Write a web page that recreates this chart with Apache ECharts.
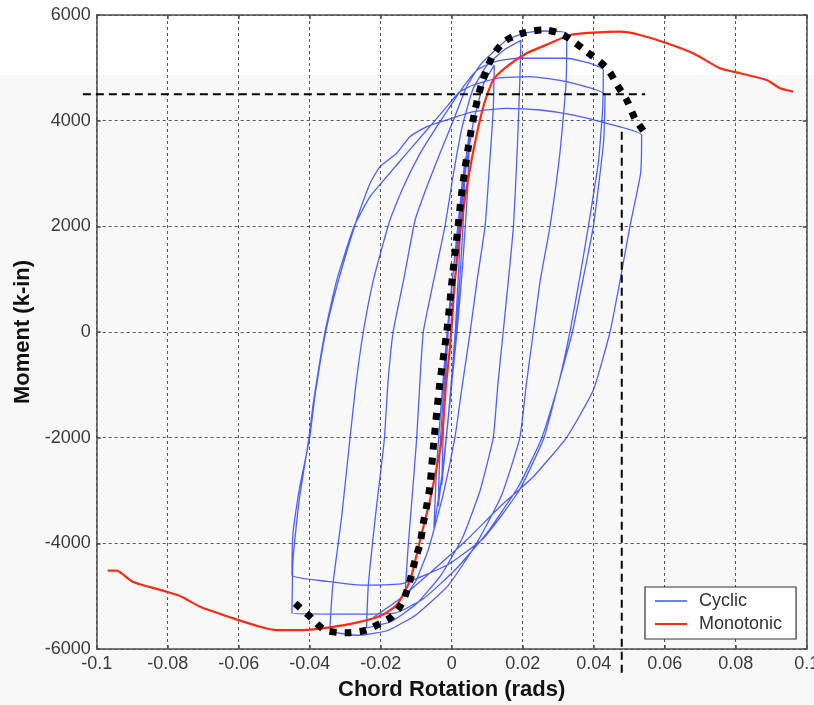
<!DOCTYPE html>
<html>
<head>
<meta charset="utf-8">
<script src="https://cdn.jsdelivr.net/npm/echarts@6/dist/echarts.min.js"></script>
<style>
html,body{margin:0;padding:0;background:#fff;}
#chart{width:814px;height:705px;}
</style>
</head>
<body>
<div id="chart"></div>
<script>
// ---- axis ticks ----
const xTickLabels = ['-0.1','-0.08','-0.06','-0.04','-0.02','0','0.02','0.04','0.06','0.08','0.1'];
const yTickLabels = ['-6000','-4000','-2000','0','2000','4000','6000'];

// ---- Monotonic test (red) [rotation, moment] ----
const monotonic = [
[-0.0969,-4518],[-0.0944,-4518],[-0.0899,-4726],[-0.0803,-4916],[-0.0761,-5010],[-0.0709,-5200],
[-0.0615,-5420],[-0.054,-5578],[-0.0493,-5641],[-0.042,-5641],[-0.0343,-5590],[-0.0268,-5502],
[-0.0202,-5376],[-0.0155,-5168],[-0.0117,-4694],[-0.0089,-3937],[-0.0061,-3180],[-0.0042,-2550],
[-0.0028,-2044],[-0.0016,-1000],[-0.0005,-300],[0.0005,700],[0.0028,2100],[0.0056,3256],
[0.0089,4265],[0.0117,4770],[0.0155,5022],[0.0211,5275],[0.0277,5465],[0.0333,5622],
[0.0399,5666],[0.0474,5684],[0.053,5622],[0.0606,5465],[0.068,5275],[0.0756,4991],
[0.0793,4927],[0.0887,4770],[0.0925,4613],[0.0962,4549]
];

// ---- Cyclic test (blue) [rotation, moment] ----
const cyclic = [
[0,0],[0.001,1000],[0.002,2000],[0.003,2900],
[0.0022,1500],[0.001,0],[-0.0008,-1500],[-0.0028,-2900],
[-0.0022,-1500],[-0.001,0],[0.0008,1400],[0.0025,2500],[0.0038,3300],
[0.0032,2000],[0.0018,500],[0,-1000],[-0.002,-2300],[-0.0038,-3300],
[-0.0033,-2200],[-0.002,-800],[-0.0006,500],[0.0015,1800],[0.0035,3000],[0.005,3800],
[0.0045,2700],[0.003,1200],[0.0015,0],[-0.0005,-1300],[-0.0025,-2600],[-0.005,-3700],
[-0.0042,-2500],[-0.003,-1400],[-0.0013,0],[0.0005,1200],[0.0023,2000],[0.004,3100],[0.0062,4000],[0.009,4700],[0.012,5050],
[0.0117,4200],[0.0106,3100],[0.0094,2000],[0.0072,1000],[0.0052,0],[0.003,-1000],[0.0009,-2000],[-0.0025,-3100],[-0.0065,-4100],[-0.010,-4700],[-0.0132,-5010],
[-0.0122,-4000],[-0.011,-3000],[-0.0099,-2044],[-0.009,-1000],[-0.008,0],[-0.005,1000],[-0.0019,2000],[0.0005,3000],[0.003,3900],[0.006,4600],[0.010,5050],[0.015,5350],[0.0195,5520],
[0.0192,4800],[0.0185,3500],[0.0174,2000],[0.016,1000],[0.0145,0],[0.013,-1000],[0.0117,-2000],[0.008,-3000],[0.003,-3900],[-0.003,-4600],[-0.010,-5150],[-0.017,-5480],[-0.024,-5600],
[-0.0235,-4800],[-0.0215,-3500],[-0.019,-2044],[-0.018,-1000],[-0.0165,0],[-0.0135,1000],[-0.0103,2120],[-0.007,2750],[-0.0033,3382],[0.0005,4013],[0.0042,4643],[0.008,5050],[0.0125,5350],[0.0155,5527],[0.0202,5654],[0.0249,5697],[0.0295,5690],[0.0324,5654],
[0.0322,4700],[0.0305,3400],[0.0277,2000],[0.025,1000],[0.023,0],[0.021,-1000],[0.0192,-2000],[0.014,-3100],[0.007,-4000],[-0.001,-4800],[-0.01,-5350],[-0.018,-5650],[-0.026,-5740],[-0.0343,-5640],
[-0.0335,-4800],[-0.031,-3500],[-0.0287,-2044],[-0.027,-1000],[-0.0249,0],[-0.022,1000],[-0.0174,2120],[-0.0136,2750],[-0.0089,3382],[-0.0042,3886],[-0.0005,4265],[0.0033,4643],[0.007,4950],[0.0108,5086],[0.0155,5160],[0.0202,5181],[0.0324,5181],[0.039,5086],[0.0427,4959],
[0.0425,4200],[0.0413,3200],[0.0385,2000],[0.036,1000],[0.0333,0],[0.030,-1000],[0.0254,-2000],[0.019,-2900],[0.010,-3800],[0.001,-4500],[-0.008,-5050],[-0.016,-5320],[-0.03,-5340],[-0.045,-5325],
[-0.0447,-4300],[-0.043,-3200],[-0.0402,-2000],[-0.039,-1350],[-0.0357,0],[-0.0323,1000],[-0.0275,2000],[-0.023,2561],[-0.0183,2940],[-0.0127,3382],[-0.007,3823],[-0.0014,4265],[0.0023,4550],[0.0061,4675],[0.0127,4802],[0.022,4833],[0.0324,4738],[0.0432,4486],
[0.0428,3600],[0.0399,2000],[0.037,1000],[0.034,0],[0.030,-1000],[0.026,-2000],[0.019,-3000],[0.009,-3900],[-0.001,-4400],[-0.0136,-4757],[-0.025,-4790],[-0.035,-4720],[-0.045,-4600],
[-0.0447,-3800],[-0.043,-3000],[-0.040,-2000],[-0.0385,-1200],[-0.0355,0],[-0.0318,1000],[-0.0268,2120],[-0.023,2815],[-0.0202,3129],[-0.0155,3382],[-0.0118,3697],[-0.007,3886],[-0.0014,4013],[0.0061,4170],[0.0155,4234],[0.0249,4202],[0.0343,4107],[0.0437,3950],[0.0535,3729],
[0.0532,3000],[0.0502,2000],[0.0475,1000],[0.0446,0],[0.0399,-1098],[0.0324,-1993],[0.023,-2739],[0.0136,-3307],[0.0042,-3937],[-0.0052,-4505],[-0.0146,-5050],[-0.022,-5400]
];

// ---- hand-drawn backbone envelope (black dotted) ----
const envelope = [
[-0.0441,-5135],[-0.0399,-5389],[-0.0357,-5641],[-0.0296,-5691],[-0.024,-5641],[-0.0202,-5515],
[-0.0169,-5389],[-0.0146,-5200],[-0.0132,-5010],[-0.0117,-4694],[-0.0103,-4316],[-0.0089,-4000],
[-0.008,-3621],[-0.007,-3275],[-0.0061,-2896],[-0.0052,-2201],[-0.0034,-1000],[-0.0014,0],
[0.0005,1236],[0.0018,2000],[0.0028,2625],[0.0047,3508],[0.0066,4202],[0.0085,4707],
[0.0117,5243],[0.0155,5527],[0.0206,5666],[0.0258,5716],[0.0314,5622],[0.038,5306],
[0.0437,4991],[0.0469,4644],[0.0493,4391],[0.0516,4045],[0.0545,3761]
];

// ---- reference guide lines (black dashed): [x0, y0, x1, y1] ----
const guides = [
  [-0.1039, 4500, 0.0545, 4500],
  [0.0479, 3790, 0.0479, -6454]
];

const FONT = "'Liberation Sans', Arial, sans-serif";
const chart = echarts.init(document.getElementById('chart'));

const axisLineStyle = {color:'#4d4d4d', width:1.5};
const gridLineStyle = {color:'#555', width:1, type:[3,3]};

chart.setOption({
  animation:false,
  backgroundColor:'transparent',
  graphic:[{type:'rect', silent:true, z:-10, shape:{x:0,y:75,width:814,height:630}, style:{fill:'#f8f8f8'}}],
  grid:{left:96.7, right:7.3, top:15, bottom:56, containLabel:false, outerBoundsMode:'none'},
  xAxis:[{
    type:'value', min:-0.1, max:0.1, interval:0.02, position:'bottom',
    name:'Chord Rotation (rads)', nameLocation:'middle', nameGap:30,
    nameTextStyle:{fontFamily:FONT, fontSize:22, fontWeight:'bold', color:'#111'},
    axisLine:{show:true, onZero:false, lineStyle:axisLineStyle},
    axisTick:{show:true, inside:true, length:4, lineStyle:axisLineStyle},
    axisLabel:{fontFamily:FONT, fontSize:18, color:'#3a3a3a', margin:6,
      formatter:(v)=>xTickLabels[Math.round((v+0.1)/0.02)]},
    splitLine:{show:true, lineStyle:gridLineStyle}
  },{
    type:'value', min:-0.1, max:0.1, interval:0.02, position:'top',
    axisLine:{show:true, onZero:false, lineStyle:axisLineStyle},
    axisTick:{show:true, inside:true, length:4, lineStyle:axisLineStyle},
    axisLabel:{show:false}, splitLine:{show:false}
  }],
  yAxis:[{
    type:'value', min:-6000, max:6000, interval:2000, position:'left',
    name:'Moment (k-in)', nameLocation:'middle', nameGap:62, nameRotate:90,
    nameTextStyle:{fontFamily:FONT, fontSize:22, fontWeight:'bold', color:'#111'},
    axisLine:{show:true, onZero:false, lineStyle:axisLineStyle},
    axisTick:{show:true, inside:true, length:4, lineStyle:axisLineStyle},
    axisLabel:{fontFamily:FONT, fontSize:18, color:'#3a3a3a', margin:6,
      formatter:(v)=>yTickLabels[Math.round((v+6000)/2000)]},
    splitLine:{show:true, lineStyle:gridLineStyle}
  },{
    type:'value', min:-6000, max:6000, interval:2000, position:'right',
    axisLine:{show:true, onZero:false, lineStyle:axisLineStyle},
    axisTick:{show:true, inside:true, length:4, lineStyle:axisLineStyle},
    axisLabel:{show:false}, splitLine:{show:false}
  }],
  legend:{
    data:[{name:'Cyclic', itemStyle:{color:'#6d7fff'}},{name:'Monotonic', itemStyle:{color:'#ff2a14'}}],
    orient:'vertical', left:645, top:587, padding:[5,14,6,10], itemGap:5,
    itemWidth:32, itemHeight:2, icon:'rect',
    borderColor:'#333', borderWidth:1.2, backgroundColor:'#fff',
    textStyle:{fontFamily:FONT, fontSize:18, color:'#333', lineHeight:18, padding:[0,0,0,7]}
  },
  series:[
    {name:'Cyclic', type:'line', data:cyclic, symbol:'none', smooth:0.15, z:2,
     itemStyle:{color:'#6d7fff'},
     lineStyle:{color:'#2f45ff', width:1.3, opacity:0.85}},
    {name:'Monotonic', type:'line', data:monotonic, symbol:'none', smooth:0.2, z:3,
     itemStyle:{color:'#ff2a14'},
     lineStyle:{color:'#ff2a14', width:2.2}},
    {name:'Envelope', type:'line', data:envelope, symbol:'none', smooth:0.3, z:4,
     lineStyle:{color:'#000', width:7, type:[7,8], cap:'butt'}},
    {name:'Guides', type:'custom', data:guides, clip:false, z:5, silent:true,
     renderItem:function(params, api){
       const p0 = api.coord([api.value(0), api.value(1)]);
       const p1 = api.coord([api.value(2), api.value(3)]);
       return {type:'line', shape:{x1:p0[0], y1:p0[1], x2:p1[0], y2:p1[1]},
               style:{stroke:'#000', lineWidth:2, lineDash:[8,5], fill:null}};
     }}
  ]
});
</script>
</body>
</html>
